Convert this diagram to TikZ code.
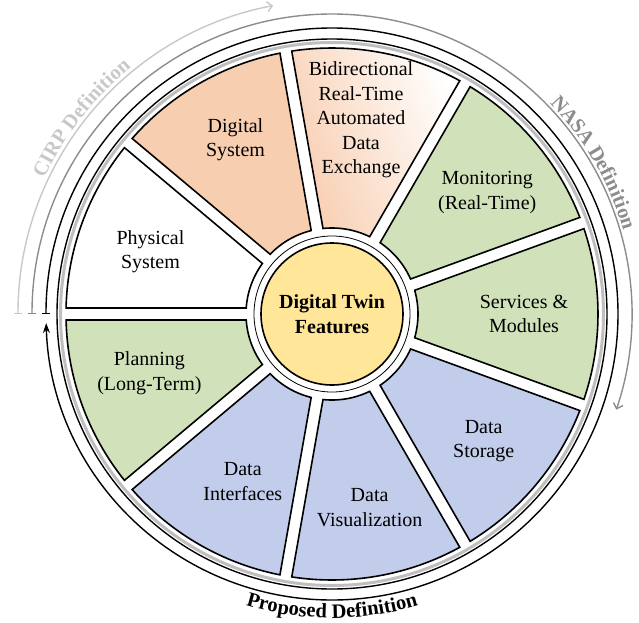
\documentclass[tikz,border=0pt]{standalone}
\usepackage{fontspec}
\setmainfont{Liberation Serif}
\usetikzlibrary{arrows.meta,decorations.text}
\definecolor{peach}{RGB}{248,206,177}
\definecolor{lgreen}{RGB}{209,226,187}
\definecolor{lblue}{RGB}{194,205,235}
\definecolor{lyellow}{RGB}{255,230,153}
\definecolor{cirpgray}{RGB}{200,200,200}
\definecolor{nasagray}{RGB}{140,140,140}
\newcommand{\wsector}[2]{%
  \path[sectorbox,#2] ({#1-20+1.29}:266) arc[start angle={#1-20+1.29}, end angle={#1+20-1.29}, radius=266]
    -- ({#1+20-4.0}:86) arc[start angle={#1+20-4.0}, end angle={#1-20+4.0}, radius=86] -- cycle;}
\tikzset{
  sectorbox/.style={draw=black, line width=1.6pt, line join=miter},
  lbl/.style={font=\fontsize{20}{24.5}\selectfont, align=center, inner sep=0pt},
  defarc/.style={line width=1.4pt},
  deftext/.style={decorate, decoration={text along path, text align=center, text color=#1}},
}
\begin{document}
\begin{tikzpicture}[x=1pt,y=1pt]
\useasboundingbox (-332,-308) rectangle (307,314);
% definition arrows
\draw[defarc, cirpgray, {Bar[width=8pt]}-{Straight Barb[length=5pt,width=10pt]}]
  (180:314) arc[start angle=180, end angle=100.8, radius=314];
\draw[defarc, nasagray, {Bar[width=8pt]}-{Straight Barb[length=5pt,width=10pt]}]
  (180:300) arc[start angle=180, end angle=-18.6, radius=300];
\draw[defarc, black, {Bar[width=8pt]}-{Stealth[length=10pt,width=7pt]}]
  (180:286) arc[start angle=180, end angle=-178.2, radius=286];
% definition texts
\path[deftext=cirpgray, decoration={text={|\bfseries\fontsize{20.5}{20.5}\selectfont|CIRP Definition}}]
  (172:318) arc[start angle=172, end angle=112, radius=318];
\path[deftext=nasagray, decoration={text={|\bfseries\fontsize{20.5}{20.5}\selectfont|NASA Definition}}]
  (60:303) arc[start angle=60, end angle=0, radius=303];
\path[deftext=black, decoration={text={|\bfseries\fontsize{20.5}{20.5}\selectfont|Proposed Definition}}]
  (-130:304) arc[start angle=-130, end angle=-50, radius=304];
% wheel rim
\draw[black!25, line width=3pt] (0,0) circle[radius=271.5];
\draw[black, line width=1.4pt] (0,0) circle[radius=275];
% sectors
\wsector{160}{fill=white}
\wsector{120}{fill=peach}
\wsector{80}{left color=peach, right color=white, shading angle=110}
\wsector{40}{fill=lgreen}
\wsector{0}{fill=lgreen}
\wsector{-40}{fill=lblue}
\wsector{-80}{fill=lblue}
\wsector{-120}{fill=lblue}
\wsector{-160}{fill=lgreen}
% centre
\draw[line width=0.8pt] (0,0) circle[radius=78];
\node[circle, draw, line width=1.6pt, fill=lyellow, minimum size=142pt, inner sep=0pt,
  font=\fontsize{20}{25}\selectfont\bfseries, align=center] (core) at (0,0) {Digital Twin\\Features};
% labels
\node[lbl] (physical) at (161:192) {Physical\\System};
\node[lbl] (digital) at (119:199) {Digital\\System};
\node[lbl] (exchange) at (81.5:196) {Bidirectional\\Real-Time\\Automated\\Data\\Exchange};
\node[lbl] (monitor) at (38:197) {Monitoring\\(Real-Time)};
\node[lbl] (services) at (0:192) {Services \&\\Modules};
\node[lbl] (storage) at (-40:198) {Data\\Storage};
\node[lbl] (visual) at (-79:197) {Data\\Visualization};
\node[lbl] (interf) at (-118:190) {Data\\Interfaces};
\node[lbl] (planning) at (-162:192) {Planning\\(Long-Term)};
\end{tikzpicture}
\end{document}
